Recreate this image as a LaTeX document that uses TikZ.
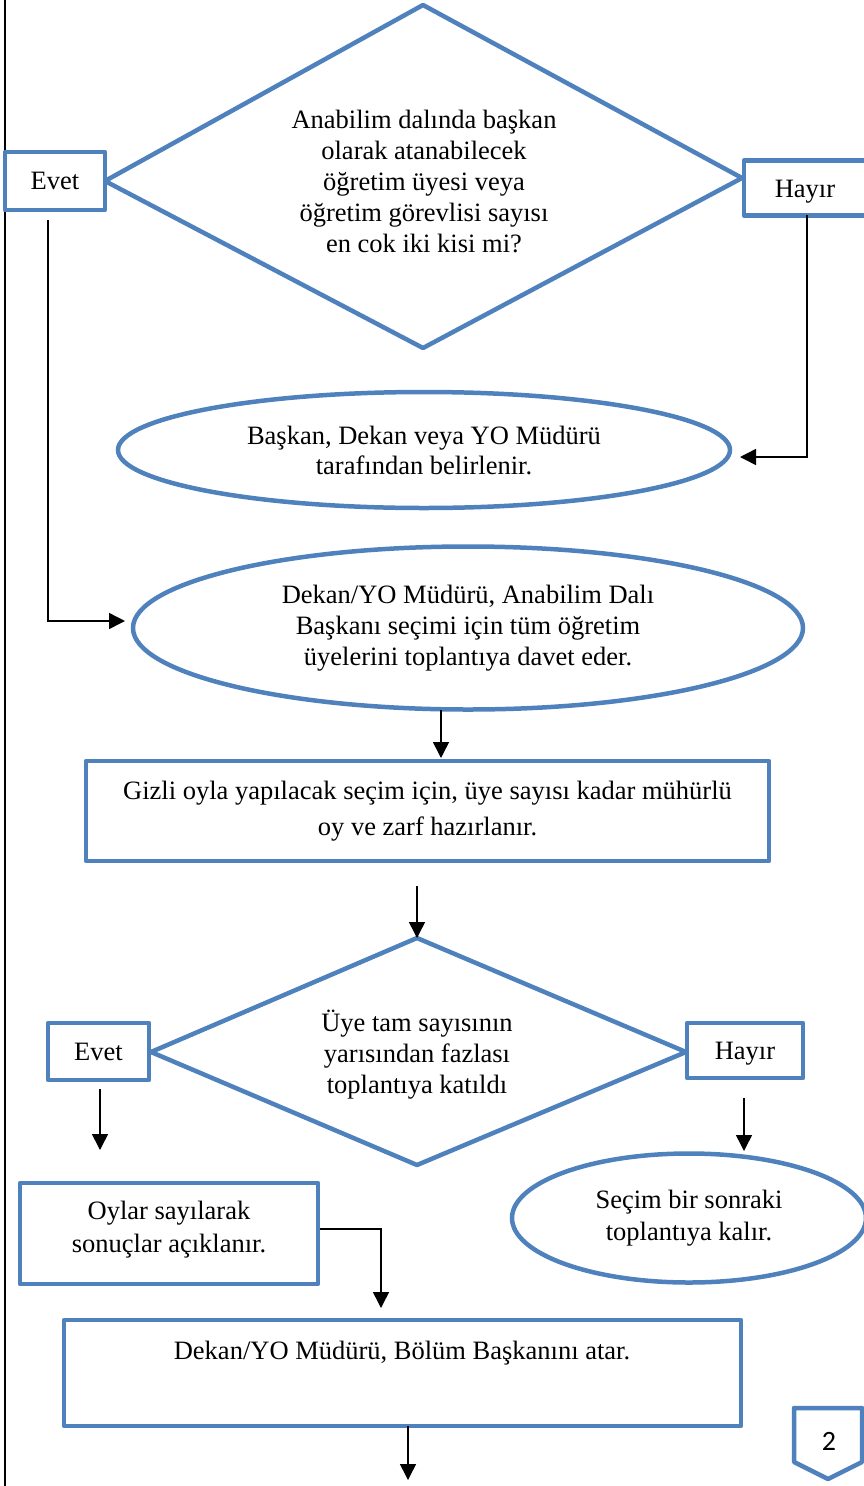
\documentclass[tikz,border=0pt]{standalone}
\usepackage{fontspec}
\setmainfont{Liberation Serif}
\newfontfamily\numfont{Carlito}
\usetikzlibrary{shapes.geometric,arrows.meta}
\definecolor{wordblue}{RGB}{79,129,189}
\begin{document}
\begin{tikzpicture}[x=1pt,y=-1pt,
  every node/.style={font=\fontsize{26.5pt}{31pt}\selectfont},
  blueline/.style={draw=wordblue,line width=4.5pt,line join=round},
  box/.style={blueline,fill=white,rectangle,align=center,inner sep=0pt},
  oval/.style={blueline,fill=white,ellipse,align=center,inner sep=0pt},
  conn/.style={draw=black,line width=1.5pt,-{Triangle[length=16pt,width=16pt]}},
  txt/.style={align=center,inner sep=0pt}
]
\useasboundingbox (0,0) rectangle (864,1486);
% left margin line
\draw[line width=2pt] (5,0) coordinate (ltop) -- (5,1486) coordinate (lbot);

% ---------- first decision ----------
\draw[blueline] (423,5) coordinate (d1t) -- (742,178) coordinate (d1r)
  -- (423,348) coordinate (d1b) -- (105,181) coordinate (d1l) -- cycle;
\node[txt] (d1text) at (424,181) {Anabilim dalında başkan\\olarak atanabilecek\\öğretim üyesi veya\\öğretim görevlisi sayısı\\en cok iki kisi mi?};
\node[box,minimum width=100pt,minimum height=58pt] (evet1) at (55,181) {Evet};
\node[box,minimum width=124pt,minimum height=55pt] (hayir1) at (806,188) {};
\node[txt] (hayir1t) at (805,192) {Hayır};

\node[oval,minimum width=612pt,minimum height=116pt,font=\fontsize{26.5pt}{30pt}\selectfont] (e1) at (424,450)
  {Başkan, Dekan veya YO Müdürü\\tarafından belirlenir.};
\node[oval,minimum width=670pt,minimum height=163pt] (e2) at (468,628)
  {Dekan/YO Müdürü, Anabilim Dalı\\Başkanı seçimi için tüm öğretim\\üyelerini toplantıya davet eder.};

\coordinate (h1s) at (807,215);
\coordinate (a1) at (740,457);
\draw[conn] (h1s) |- (a1);
\coordinate (e1s) at (48,220);
\coordinate (a2) at (125,621);
\draw[conn] (e1s) |- (a2);

\node[box,minimum width=683pt,minimum height=100pt,font=\fontsize{26.5pt}{36pt}\selectfont] (r1) at (427.5,811)
  {Gizli oyla yapılacak seçim için, üye sayısı kadar mühürlü\\oy ve zarf hazırlanır.};
\coordinate (c1a) at (441,710);
\coordinate (c1b) at (441,758);
\draw[conn] (c1a) -- (c1b);

% ---------- second decision ----------
\draw[blueline] (417,938) coordinate (d2t) -- (686,1052) coordinate (d2r)
  -- (417,1165) coordinate (d2b) -- (151,1052) coordinate (d2l) -- cycle;
\node[txt] (d2text) at (417,1055) {Üye tam sayısının\\yarısından fazlası\\toplantıya katıldı};
\coordinate (c2a) at (417,886);
\draw[conn] (c2a) -- (d2t);
\node[box,minimum width=101pt,minimum height=57pt] (evet2) at (98.5,1051.5) {Evet};
\node[box,minimum width=116pt,minimum height=55pt] (hayir2) at (745,1050.5) {};
\node[txt] (hayir2t) at (745,1054) {Hayır};

\coordinate (c3a) at (100,1089);
\coordinate (c3b) at (100,1150);
\draw[conn] (c3a) -- (c3b);
\coordinate (c4a) at (744,1098);
\coordinate (c4b) at (744,1151);
\draw[conn] (c4a) -- (c4b);

\node[box,minimum width=298pt,minimum height=101pt] (r2) at (169,1233.5) {};
\node[txt,font=\fontsize{26.5pt}{33pt}\selectfont] (r2t) at (169,1230) {Oylar sayılarak\\sonuçlar açıklanır.};
\node[oval,minimum width=354pt,minimum height=129pt,font=\fontsize{26.5pt}{32pt}\selectfont] (e3) at (689,1218)
  {Seçim bir sonraki\\toplantıya kalır.};

\node[box,minimum width=677pt,minimum height=106pt] (r3) at (402.5,1373) {};
\node[txt] (r3text) at (402,1353) {Dekan/YO Müdürü, Bölüm Başkanını atar.};
\coordinate (c5) at (381,1308);
\draw[conn] (r2.east |- 0,1229) -| (c5);
\coordinate (c6a) at (408,1426);
\coordinate (c6b) at (408,1480);
\draw[conn] (c6a) -- (c6b);

% page marker
\draw[blueline,fill=white] (794,1408) coordinate (p1) -- (862,1408) -- (862,1462) -- (828,1479) -- (794,1462) -- cycle;
\node[txt,font=\numfont\fontsize{28pt}{32pt}\selectfont] (pnum) at (829,1441) {2};
\end{tikzpicture}
\end{document}
